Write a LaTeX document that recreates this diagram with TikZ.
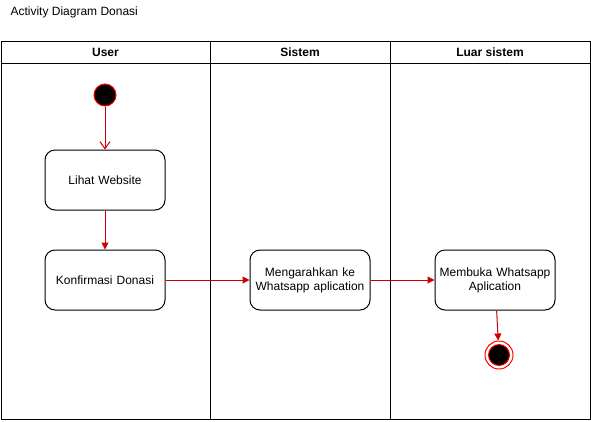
\documentclass[tikz,border=0pt]{standalone}
\usepackage{fontspec}
\setmainfont{Liberation Sans}
\usetikzlibrary{arrows.meta}
\definecolor{arrowred}{HTML}{CC0000}
\definecolor{startred}{HTML}{FF0000}
\tikzset{
  lane/.style={draw=black, line width=1pt},
  hdr/.style={font=\fontsize{12pt}{14pt}\selectfont\bfseries, anchor=center},
  act/.style={draw=black, line width=1pt, rounded corners=10pt, minimum width=120pt, minimum height=60pt, align=center, font=\fontsize{12pt}{14pt}\selectfont, inner sep=2pt, text width=116pt},
  flow/.style={draw=arrowred, line width=1pt, -{Triangle[length=7pt,width=7pt]}},
  flowopen/.style={draw=arrowred, line width=1pt, -{Straight Barb[length=7pt,width=10pt,line width=1pt]}},
}
\begin{document}
\begin{tikzpicture}[x=1pt,y=-1pt]
\useasboundingbox (0,0) rectangle (591,421);
% title
\node[anchor=west, font=\fontsize{12pt}{14pt}\selectfont] (title) at (7,12) {Activity Diagram Donasi};
% pool
\draw[lane] (1,41) rectangle (590,419);
\draw[lane] (1,63) -- (590,63);
\draw[lane] (210,41) -- (210,419);
\draw[lane] (390,41) -- (390,419);
\node[hdr] (hUser) at (105.5,52) {User};
\node[hdr] (hSistem) at (300,52) {Sistem};
\node[hdr] (hLuar) at (490,52) {Luar sistem};
% start
\node[circle, fill=black, draw=startred, line width=1pt, minimum size=22pt, inner sep=0pt] (start) at (105,95) {};
% activities
\node[act] (lihat) at (105,180) {Lihat Website};
\node[act] (konf) at (105,280) {Konfirmasi Donasi};
\node[act] (meng) at (310,280) {Mengarahkan ke\\Whatsapp aplication};
\node[act] (buka) at (495,280) {Membuka Whatsapp\\Aplication};
% end
\node[circle, draw=startred, fill=white, line width=1pt, minimum size=28pt, inner sep=0pt] (endo) at (499,355) {};
\node[circle, draw=startred, fill=black, line width=1pt, minimum size=21pt, inner sep=0pt] (endi) at (endo.center) {};
% flows
\draw[flowopen] (start) -- (lihat);
\draw[flow] (lihat) -- (konf);
\draw[flow] (konf) -- (meng);
\draw[flow] (meng) -- (buka);
\draw[flow] (buka) -- (endo);
\end{tikzpicture}
\end{document}
